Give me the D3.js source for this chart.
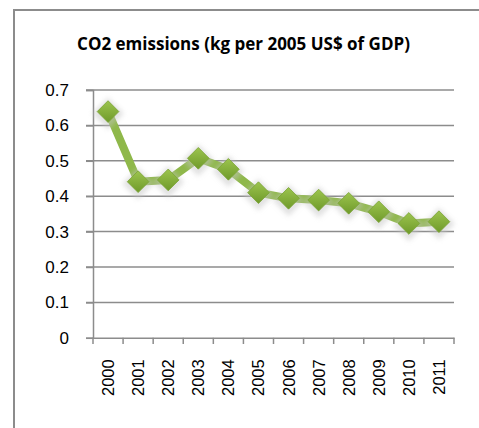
<!DOCTYPE html>
<html>
<head>
<meta charset="utf-8">
<script src="https://cdn.jsdelivr.net/npm/d3@7"></script>
<style>
  body { margin: 0; background: #fff; }
</style>
</head>
<body>
<div id="canvas"></div>
<script>
"use strict"

let years = ["2000", "2001", "2002", "2003", "2004", "2005", "2006", "2007", "2008", "2009", "2010", "2011"]
let emissions = [0.639, 0.441, 0.446, 0.507, 0.476, 0.41, 0.394, 0.389, 0.38, 0.356, 0.323, 0.328]
let yTicks = [0, 0.1, 0.2, 0.3, 0.4, 0.5, 0.6, 0.7]
let title = "CO2 emissions (kg per 2005 US$ of GDP)"

let svgWidth = 479
let svgHeight = 428

let svg = d3.select("#canvas")
    .append("svg")
    .attr("width", svgWidth)
    .attr("height", svgHeight)

// outer chart frame (cut off at right and bottom, like the picture)
svg.append("rect")
    .attr("x", 14)
    .attr("y", 10)
    .attr("width", 480)
    .attr("height", 430)
    .attr("fill", "white")
    .attr("stroke", "#8c8c8c")
    .attr("stroke-width", 2)

let xScale = d3.scaleBand()
    .domain(years)
    .range([93, 454])

let yScale = d3.scaleLinear()
    .domain([0, 0.7])
    .range([337.8, 90])

// gradient + glow for the markers
let defs = svg.append("defs")
let grad = defs.append("linearGradient")
    .attr("id", "markerFill")
    .attr("x1", 0).attr("y1", 0).attr("x2", 0).attr("y2", 1)
grad.append("stop").attr("offset", "0%").attr("stop-color", "#9cc44e")
grad.append("stop").attr("offset", "100%").attr("stop-color", "#6f9a2a")

let glow = defs.append("filter")
    .attr("id", "glow")
    .attr("x", "-50%").attr("y", "-50%").attr("width", "200%").attr("height", "200%")
glow.append("feGaussianBlur").attr("stdDeviation", 2.5)

/* title */
svg.append("text")
    .attr("x", 243.5)
    .attr("y", 50)
    .attr("text-anchor", "middle")
    .attr("font-family", "'Open Sans', sans-serif")
    .attr("font-weight", "bold")
    .attr("font-size", 17)
    .attr("fill", "#000")
    .text(title)

/* horizontal gridlines */
svg.append("g")
    .selectAll("line")
    .data(yTicks.slice(1))
    .enter()
    .append("line")
    .attr("x1", 86)
    .attr("x2", 454)
    .attr("y1", d => yScale(d))
    .attr("y2", d => yScale(d))
    .attr("stroke", "#8c8c8c")
    .attr("stroke-width", 1.5)

/* y axis */
let yAxis = d3.axisLeft(yScale)
    .tickValues(yTicks)
    .tickSize(7)
    .tickPadding(17)
    .tickFormat(d => d === 0 ? "0" : d3.format(".1f")(d))

let yg = svg.append("g")
    .attr("transform", "translate(93,0)")
    .call(yAxis)
yg.select(".domain").attr("stroke", "#8c8c8c").attr("stroke-width", 1.5)
yg.selectAll(".tick line").attr("stroke", "#8c8c8c").attr("stroke-width", 1.5)
yg.selectAll(".tick text")
    .attr("font-family", "'Liberation Sans', Arial, sans-serif")
    .attr("font-size", 17)
    .attr("fill", "#000")

/* x axis */
let xAxis = d3.axisBottom(xScale).tickSize(0).tickPadding(0)
let xg = svg.append("g")
    .attr("transform", "translate(0,337.8)")
    .call(xAxis)
xg.select(".domain").attr("stroke", "#8c8c8c").attr("stroke-width", 1.5)
xg.selectAll(".tick text")
    .attr("font-family", "'Liberation Sans', Arial, sans-serif")
    .attr("font-size", 16.5)
    .attr("fill", "#000")
    .attr("text-anchor", "end")
    .attr("dominant-baseline", "central")
    .attr("transform", "translate(0,21.5) rotate(-90)")
    .attr("y", 0)
    .attr("dy", 0)

// tick marks at category boundaries
svg.append("g")
    .selectAll("line")
    .data(years.concat(["end"]))
    .enter()
    .append("line")
    .attr("x1", (d, i) => i < years.length ? xScale(d) : xScale.range()[1])
    .attr("x2", (d, i) => i < years.length ? xScale(d) : xScale.range()[1])
    .attr("y1", 337.8)
    .attr("y2", 344)
    .attr("stroke", "#8c8c8c")
    .attr("stroke-width", 1.5)

let cx = d => xScale(d) + xScale.bandwidth() / 2
let points = years.map((y, i) => [cx(y), yScale(emissions[i])])

/* series line */
svg.append("path")
    .datum(points)
    .attr("d", d3.line())
    .attr("fill", "none")
    .attr("stroke", "#8fb84a")
    .attr("stroke-width", 8)
    .attr("stroke-linejoin", "round")

/* marker glow */
let diamond = d3.symbol().type(d3.symbolDiamond2).size(300)
svg.append("g")
    .selectAll("path")
    .data(points)
    .enter()
    .append("path")
    .attr("d", d3.symbol().type(d3.symbolDiamond2).size(640))
    .attr("transform", d => `translate(${d[0]},${d[1] + 2})`)
    .attr("fill", "#c4c4c4")
    .attr("opacity", 0.5)
    .attr("filter", "url(#glow)")

/* markers */
svg.append("g")
    .selectAll("path")
    .data(points)
    .enter()
    .append("path")
    .attr("d", diamond)
    .attr("transform", d => `translate(${d[0]},${d[1]})`)
    .attr("fill", "url(#markerFill)")
    .attr("stroke", "#7aa335")
    .attr("stroke-width", 0.8)
</script>
</body>
</html>
